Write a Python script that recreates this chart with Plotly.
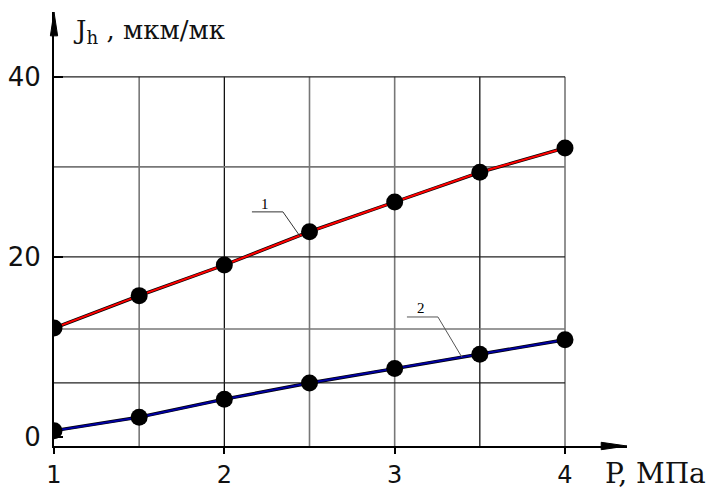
import plotly.graph_objects as go

# ---- data ----
pressure = [1, 1.5, 2, 2.5, 3, 3.5, 4]               # P, MPa
jh_curve1 = [12.1, 15.7, 19.1, 22.8, 26.1, 29.4, 32.1]
jh_curve2 = [0.7, 2.2, 4.2, 6.0, 7.6, 9.2, 10.8]

x_tick_vals = [1, 2, 3, 4]
x_tick_text = ["1", "2", "3", "4"]
y_tick_vals = [0, 20, 40]
y_tick_text = ["0", "20", "40"]

x_grid_dark = [2, 3.5]
x_grid_light = [1.5, 2.5, 3, 4]
y_grid_dark = [40, 20, 6]
y_grid_light = [30, 12]

X_RANGE = [1, 4.364]
Y_RANGE = [-1, 47.2]
GRID_TOP = 40
GRID_RIGHT = 4

SANS = "DejaVu Sans, Arial, sans-serif"
SERIF = "DejaVu Serif, Times New Roman, serif"
SERIF2 = "Liberation Serif, Times New Roman, serif"

fig = go.Figure()

series = [
    (jh_curve1, "#ff0000"),
    (jh_curve2, "#0000a0"),
]
for yvals, col in series:
    fig.add_trace(go.Scatter(x=pressure, y=yvals, mode="lines",
                             line=dict(color="black", width=3.4),
                             hoverinfo="skip", showlegend=False))
    fig.add_trace(go.Scatter(x=pressure, y=yvals, mode="lines",
                             line=dict(color=col, width=2),
                             showlegend=False))
for yvals, col in series:
    fig.add_trace(go.Scatter(x=pressure, y=yvals, mode="markers",
                             marker=dict(color="black", size=17),
                             showlegend=False))

shapes = []
for xv in x_grid_dark + x_grid_light:
    shapes.append(dict(type="line", xref="x", yref="y", x0=xv, x1=xv,
                       y0=Y_RANGE[0], y1=GRID_TOP, layer="below",
                       line=dict(color="black" if xv in x_grid_dark else "#777777",
                                 width=1.2 if xv in x_grid_dark else 1.6)))
for yv in y_grid_dark + y_grid_light:
    shapes.append(dict(type="line", xref="x", yref="y", x0=X_RANGE[0], x1=GRID_RIGHT,
                       y0=yv, y1=yv, layer="below",
                       line=dict(color="#222222" if yv in y_grid_dark else "#777777",
                                 width=1.3 if yv in y_grid_dark else 1.6)))

# axis arrow heads (paper coords)
shapes.append(dict(type="path", xref="paper", yref="paper",
                   path="M 0.955,-0.0085 L 1.0,0 L 0.955,0.0085 Z",
                   fillcolor="black", line=dict(color="black", width=1)))
shapes.append(dict(type="path", xref="paper", yref="paper",
                   path="M -0.0063,0.945 L 0,1.0 L 0.0063,0.945 Z",
                   fillcolor="black", line=dict(color="black", width=1)))

# callout leader lines
shapes.append(dict(type="path", xref="x", yref="y",
                   path="M 2.162,25.0 L 2.344,25.0 L 2.444,22.3",
                   line=dict(color="#333333", width=1)))
shapes.append(dict(type="path", xref="x", yref="y",
                   path="M 3.072,13.33 L 3.254,13.33 L 3.395,8.85",
                   line=dict(color="#555555", width=1)))

annotations = [
    dict(xref="paper", yref="paper", x=0.029, y=0.955, xanchor="left", yanchor="middle",
         text="J<sub>h</sub> , мкм/мк", showarrow=False,
         font=dict(family=SERIF, size=26, color="#111111")),
    dict(xref="paper", yref="paper", x=0.958, y=-0.064, xanchor="left", yanchor="middle",
         text="P, МПа", showarrow=False,
         font=dict(family=SERIF, size=28, color="#111111")),
    dict(xref="x", yref="y", x=2.239, y=25.9, text="1", showarrow=False,
         font=dict(family=SERIF2, size=15, color="black")),
    dict(xref="x", yref="y", x=3.155, y=14.3, text="2", showarrow=False,
         font=dict(family=SERIF2, size=15, color="black")),
]

# the page body adds an 8px offset; margins compensate so the plot area
# lands at x 54..627, y 12..446 in the window
fig.update_layout(
    width=709, height=481,
    margin=dict(l=46, r=90, t=4, b=43, autoexpand=False),
    paper_bgcolor="white", plot_bgcolor="white",
    shapes=shapes, annotations=annotations,
    showlegend=False,
    xaxis=dict(range=X_RANGE, showgrid=False, zeroline=False, automargin=False,
               showline=True, linecolor="black", linewidth=2,
               tickvals=x_tick_vals, ticktext=x_tick_text,
               ticks="outside", ticklen=6, tickcolor="black", tickwidth=1.5,
               tickfont=dict(family=SANS, size=24, color="#111111")),
    yaxis=dict(range=Y_RANGE, showgrid=False, zeroline=False, automargin=False,
               showline=True, linecolor="black", linewidth=2,
               tickvals=y_tick_vals, ticktext=y_tick_text,
               ticks="inside", ticklen=9, tickcolor="black", tickwidth=2,
               ticklabelstandoff=6,
               tickfont=dict(family=SANS, size=26, color="#111111")),
)

fig.write_html("out.html")
